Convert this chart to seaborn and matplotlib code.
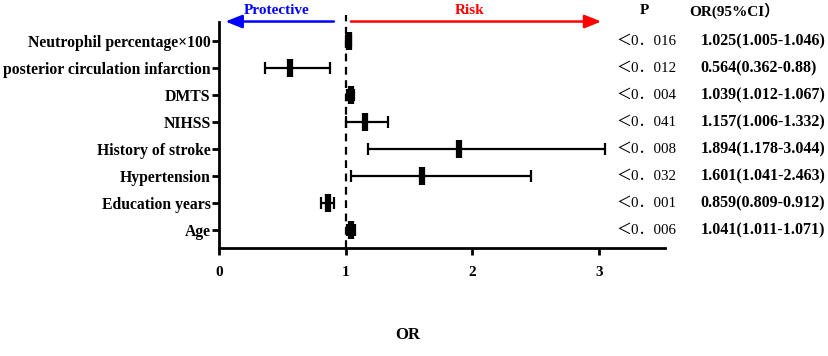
import numpy as np
import pandas as pd
import seaborn as sns
import matplotlib.pyplot as plt

variables = ['Age', 'Education years', 'Hypertension', 'History of stroke',
             'NIHSS', 'DMTS', 'posterior circulation infarction',
             'Neutrophil percentage×100']
odds = [1.041, 0.859, 1.601, 1.894, 1.157, 1.039, 0.564, 1.025]
lower = [1.011, 0.809, 1.041, 1.178, 1.006, 1.012, 0.362, 1.005]
upper = [1.071, 0.912, 2.463, 3.044, 1.332, 1.067, 0.88, 1.046]
pvals = ['＜0．006', '＜0．001', '＜0．032', '＜0．008',
         '＜0．041', '＜0．004', '＜0．012', '＜0．016']
ci_text = ['1.041(1.011-1.071)', '0.859(0.809-0.912)', '1.601(1.041-2.463)',
           '1.894(1.178-3.044)', '1.157(1.006-1.332)', '1.039(1.012-1.067)',
           '0.564(0.362-0.88)', '1.025(1.005-1.046)']

df = pd.DataFrame({'var': variables, 'OR': odds, 'lo': lower, 'hi': upper,
                   'p': pvals, 'ci': ci_text})
df['pos'] = np.arange(len(df))

sns.set_style('ticks', {'axes.edgecolor': 'black', 'text.color': 'black',
                        'xtick.color': 'black', 'ytick.color': 'black',
                        'axes.labelcolor': 'black'})
plt.rcParams['font.family'] = ['Liberation Serif', 'Noto Sans CJK SC']
plt.rcParams['font.weight'] = 'bold'

fig = plt.figure(figsize=(8.29, 3.56), dpi=100)
ax = fig.add_axes([0.264, 0.303, 0.538, 0.635])

# confidence intervals
ax.errorbar(df['OR'], df['pos'],
            xerr=[df['OR'] - df['lo'], df['hi'] - df['OR']],
            fmt='none', ecolor='black', elinewidth=1.6, capsize=4, capthick=1.6)
sns.scatterplot(data=df, x='OR', y='pos', marker='|', s=170, linewidth=4.5,
                color='black', ax=ax, zorder=5, legend=False)

ax.axvline(1, ymin=0, ymax=1.03, color='black', ls=(0, (3.5, 2.5)), lw=1.6,
           clip_on=False)

ax.set_xlim(0, 3.52)
ax.set_ylim(-0.67, 7.7)
ax.set_xticks([0, 1, 2, 3])
ax.set_yticks(df['pos'])
ax.set_yticklabels(df['var'], fontsize=11.3, fontweight='bold')
ax.tick_params(axis='x', labelsize=11, width=2, length=5, pad=8)
ax.tick_params(axis='y', width=2, length=5, pad=1)
for lab in ax.get_xticklabels():
    lab.set_fontweight('bold')
ax.set_xlabel('')
ax.set_ylabel('')
for s in ['left', 'bottom']:
    ax.spines[s].set_linewidth(2)
sns.despine(ax=ax)

# direction arrows
ay = 7.72
ax.annotate('', xy=(0.03, ay), xytext=(0.93, ay), annotation_clip=False,
            arrowprops=dict(arrowstyle='-|>,head_length=1.0,head_width=0.4',
                            color='blue', lw=1.8))
ax.annotate('', xy=(3.04, ay), xytext=(1.02, ay), annotation_clip=False,
            arrowprops=dict(arrowstyle='-|>,head_length=1.0,head_width=0.4',
                            color='red', lw=1.8))
ax.text(0.46, 8.12, 'Protective', color='blue', ha='center', va='center',
        fontsize=11, fontweight='bold', clip_on=False)
ax.text(1.98, 8.12, 'Risk', color='red', ha='center', va='center',
        fontsize=11, fontweight='bold', clip_on=False)

# side table
ax.text(3.36, 8.12, 'P', ha='center', va='center', fontsize=11,
        fontweight='bold', clip_on=False)
ax.text(4.07, 8.12, 'OR(95%CI）', ha='center', va='center', fontsize=11,
        fontweight='bold', clip_on=False)
for _, r in df.iterrows():
    ax.text(3.14, r['pos'], r['p'], ha='left', va='center', fontsize=10.8,
            fontweight='normal', clip_on=False)
    ax.text(3.80, r['pos'], r['ci'], ha='left', va='center', fontsize=11.5,
            fontweight='bold', clip_on=False)

fig.text(0.492, 0.059, 'OR', ha='center', va='center', fontsize=12,
         fontweight='bold')

fig.savefig('out.png', dpi=100)
